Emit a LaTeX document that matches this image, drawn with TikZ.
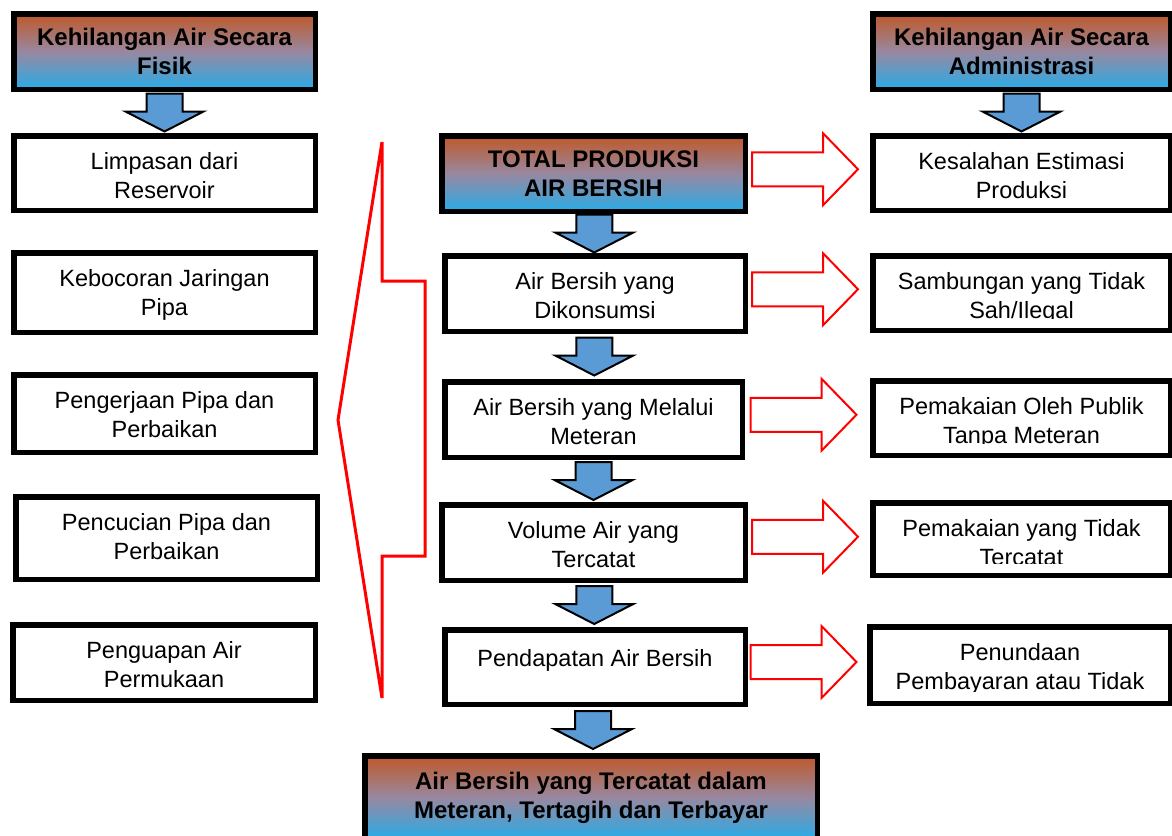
\documentclass[tikz,border=0pt]{standalone}
\usepackage{fontspec}
\setmainfont{Liberation Sans}
\usetikzlibrary{calc}

\definecolor{hdtop}{RGB}{192,88,40}
\definecolor{hdmid}{RGB}{152,136,160}
\definecolor{hdbot}{RGB}{40,172,232}
\definecolor{arrblue}{RGB}{91,155,213}

\tikzset{
  wbox/.style={draw, line width=5.5pt, fill=white, inner sep=0pt, outer sep=0pt},
  hbox/.style={draw, line width=5.5pt, top color=hdtop, bottom color=hdbot,
    middle color=hdmid, inner sep=0pt, outer sep=0pt, align=center,
    font=\fontsize{24}{29}\selectfont\bfseries},
  wtext/.style={anchor=north, align=center, inner sep=0pt,
    font=\fontsize{23.5}{28.5}\selectfont, execute at begin node=\strut},
  downarr/.pic={\draw[fill=arrblue, line width=2pt]
    (-18,-19) -- (18,-19) -- (18,-1) -- (39,-1) -- (0,19) -- (-39,-1) -- (-18,-1) -- cycle;},
  redarr/.pic={\draw[red, fill=white, line width=2pt]
    (-53,-17) -- (18,-17) -- (18,-36) -- (53,0) -- (18,36) -- (18,17) -- (-53,17) -- cycle;}
}

% box with the text cut off at the bottom, as in the slide
\newcommand\wbx[6]{%
  \node[wbox, minimum width={(#4-#2-5.5)*1pt}, minimum height={(#5-#3-5.5)*1pt}]
    (#1) at ({(#2+#4)/2},{(#3+#5)/2}) {};
  \begin{scope}
    \clip (#2,#3) rectangle (#4,#5-15);
    \node[wtext] (#1-t) at ({(#2+#4)/2},#3+19.5) {#6};
  \end{scope}}
\newcommand\hbx[6]{%
  \node[hbox, minimum width={(#4-#2-5.5)*1pt}, minimum height={(#5-#3-5.5)*1pt}]
    (#1) at ({(#2+#4)/2},{(#3+#5)/2}) {#6};}

\begin{document}
\begin{tikzpicture}[x=1pt,y=-1pt]
  \useasboundingbox (0,0) rectangle (1172,835);
  \clip (0,0) rectangle (1172,835);

  % physical losses
  \hbx{fis}{11}{11}{318}{92}{Kehilangan Air Secara\\Fisik}
  \wbx{lim}{11}{133}{318}{213}{Limpasan dari\\Reservoir}
  \wbx{boc}{11}{250}{318}{335}{Kebocoran Jaringan\\Pipa}
  \wbx{pek}{11}{372}{318}{455}{Pengerjaan Pipa dan\\Perbaikan}
  \wbx{cuc}{13}{494}{320}{582}{Pencucian Pipa dan\\Perbaikan}
  \wbx{uap}{10}{622}{318}{703}{Penguapan Air\\Permukaan}
  \pic at ($(fis.south)!0.5!(lim.north)$) {downarr};

  % bracket
  \draw[red, line width=3pt] (382,142) -- (382,281) -- (425,281) -- (425,556)
    -- (382,556) -- (382,698) -- (338,420) -- cycle;

  % main flow
  \hbx{tot}{439}{133}{748}{214}{TOTAL PRODUKSI\\AIR BERSIH}
  \wbx{kon}{442}{253}{748}{334}{Air Bersih yang\\Dikonsumsi}
  \wbx{met}{442}{379}{745}{460}{Air Bersih yang Melalui\\Meteran}
  \wbx{vol}{439}{502}{748}{583}{Volume Air yang\\Tercatat}
  \wbx{pen}{442}{627}{748}{707}{Pendapatan Air Bersih}
  \hbx{byr}{362}{753}{820}{842}{Air Bersih yang Tercatat dalam\\Meteran, Tertagih dan Terbayar}
  \pic at ($(tot.south)!0.5!(kon.north)$) {downarr};
  \pic at ($(kon.south)!0.5!(met.north)$) {downarr};
  \pic at ($(met.south)!0.5!(vol.north)$) {downarr};
  \pic at ($(vol.south)!0.5!(pen.north)$) {downarr};
  \pic at ($(pen.south)!0.5!(byr.north)$) {downarr};

  % administrative losses
  \hbx{adm}{870}{11}{1173}{92}{Kehilangan Air Secara\\Administrasi}
  \wbx{est}{870}{133}{1173}{213}{Kesalahan Estimasi\\Produksi}
  \wbx{sah}{870}{253}{1173}{333}{Sambungan yang Tidak\\Sah/Ilegal}
  \wbx{pub}{870}{378}{1173}{458}{Pemakaian Oleh Publik\\Tanpa Meteran}
  \wbx{tct}{870}{500}{1173}{578}{Pemakaian yang Tidak\\Tercatat}
  \wbx{tun}{867}{624}{1173}{706}{Penundaan\\Pembayaran atau Tidak}
  \pic at ($(adm.south)!0.5!(est.north)$) {downarr};

  \pic at ($(tot.east)!0.5!(est.west)+(-4,-4)$) {redarr};
  \pic at ($(kon.east)!0.5!(sah.west)+(-4,-4)$) {redarr};
  \pic at ($(met.east)!0.5!(pub.west)+(-4,-4)$) {redarr};
  \pic at ($(vol.east)!0.5!(tct.west)+(-4,-4)$) {redarr};
  \pic at ($(pen.east)!0.5!(tun.west)+(-4,-4)$) {redarr};
\end{tikzpicture}
\end{document}
